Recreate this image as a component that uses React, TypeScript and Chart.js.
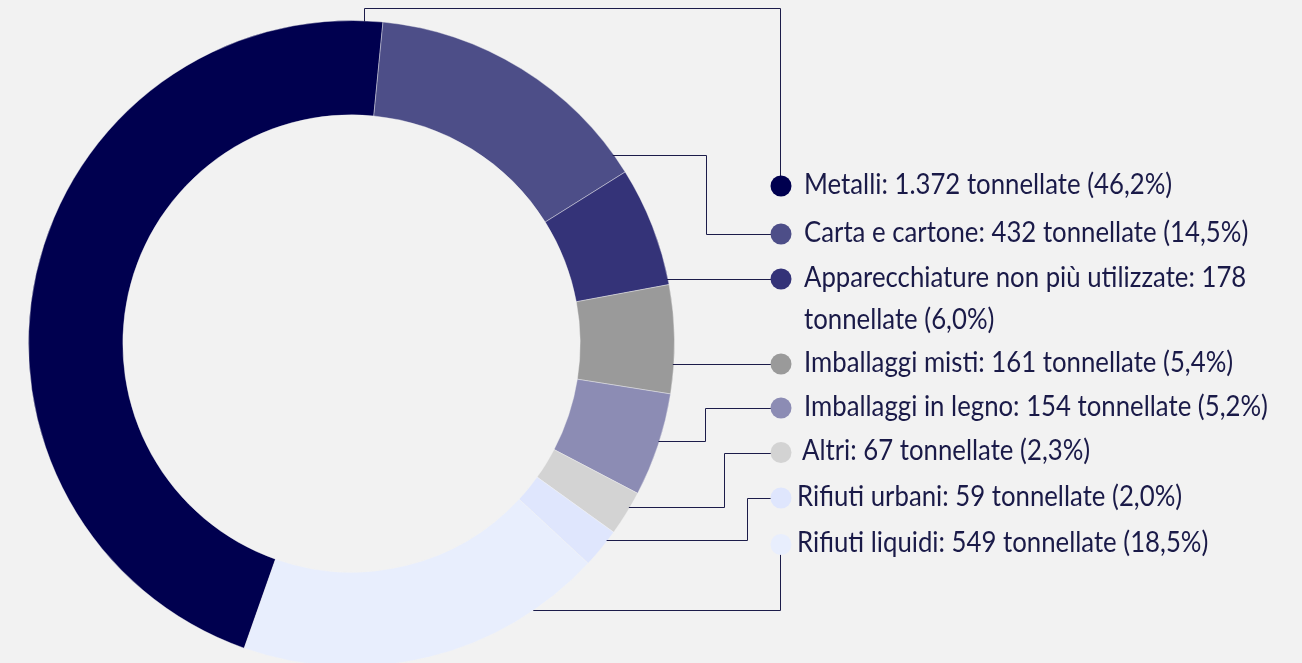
import React, { useEffect, useRef } from "react";
import { Chart, registerables } from "chart.js";

Chart.register(...registerables);

// ---- data ----
const categories = [
  "Metalli",
  "Carta e cartone",
  "Apparecchiature non più utilizzate",
  "Imballaggi misti",
  "Imballaggi in legno",
  "Altri",
  "Rifiuti urbani",
  "Rifiuti liquidi",
];
const tonnes = [1372, 432, 178, 161, 154, 67, 59, 549];
const unitLabel = "tonnellate";

// ---- styles / layout ----
const sliceColors = [
  "#00004f",
  "#4d4e88",
  "#343378",
  "#9a9a9a",
  "#8c8cb4",
  "#d3d3d3",
  "#dfe6fd",
  "#e8eefd",
];
const BG = "#f2f2f2";
const INK = "#1a1a48";
const LINE = "#1c1c4a";
const markerX = 781;
const markerR = 10.5;
const markerY = [186, 234, 279, 364, 408, 452.5, 498, 544.5];
const textX = [804, 804, 804, 804, 804, 802, 797, 797];
// where along each slice (0..1 of its angle) the leader line starts
const leaderFrac = [0.98, 0.93, 0.95, 0.73, 0.46, 0.35, 0.25, 0.19];
const leaderRoute = ["top", "elbow", "direct", "direct", "elbow", "elbow", "elbow", "bottom"];
const elbowX = [779.5, 706, 0, 0, 704.5, 723.5, 747, 779.5];
const topLineY = 8;
const TEXT_SCALE = 0.92;

const total = tonnes.reduce((a, b) => a + b, 0);
const fmtInt = (v: number) => v.toString().replace(/\B(?=(\d{3})+(?!\d))/g, ".");
const fmtPct = (v: number) => ((v / total) * 100).toFixed(1).replace(".", ",") + "%";
const legendTexts = categories.map(
  (c, i) => `${c}: ${fmtInt(tonnes[i])} ${unitLabel} (${fmtPct(tonnes[i])})`
);

const px = (v: number) => Math.round(v) + 0.5;

const leaderPlugin = {
  id: "leaders",
  afterDatasetsDraw(chart: any) {
    const ctx = chart.ctx;
    const meta = chart.getDatasetMeta(0);
    ctx.save();
    ctx.strokeStyle = LINE;
    ctx.lineWidth = 1;
    meta.data.forEach((arc: any, i: number) => {
      const { x, y, startAngle, endAngle, outerRadius } = arc.getProps(
        ["x", "y", "startAngle", "endAngle", "outerRadius"],
        true
      );
      const a = startAngle + (endAngle - startAngle) * leaderFrac[i];
      const sx = x + outerRadius * Math.cos(a);
      const sy = y + outerRadius * Math.sin(a);
      const my = markerY[i];
      ctx.beginPath();
      const route = leaderRoute[i];
      if (route === "top") {
        ctx.moveTo(px(sx), sy + 1);
        ctx.lineTo(px(sx), px(topLineY));
        ctx.lineTo(px(elbowX[i]), px(topLineY));
        ctx.lineTo(px(elbowX[i]), my - markerR + 1);
      } else if (route === "elbow") {
        ctx.moveTo(sx - 1, px(sy));
        ctx.lineTo(px(elbowX[i]), px(sy));
        ctx.lineTo(px(elbowX[i]), px(my));
        ctx.lineTo(markerX - markerR + 1, px(my));
      } else if (route === "direct") {
        ctx.moveTo(sx - 1, px(sy));
        ctx.lineTo(markerX - markerR + 1, px(sy));
      } else {
        ctx.moveTo(sx - 1, px(sy));
        ctx.lineTo(px(elbowX[i]), px(sy));
        ctx.lineTo(px(elbowX[i]), my + markerR - 1);
      }
      ctx.stroke();
    });
    // legend markers
    sliceColors.forEach((c, i) => {
      ctx.beginPath();
      ctx.fillStyle = c;
      ctx.arc(markerX, markerY[i], markerR, 0, Math.PI * 2);
      ctx.fill();
    });
    ctx.restore();
  },
};

export default function App() {
  const canvasRef = useRef<HTMLCanvasElement | null>(null);

  useEffect(() => {
    if (!canvasRef.current) return;
    const chart = new Chart(canvasRef.current, {
      type: "doughnut",
      data: {
        labels: categories,
        datasets: [
          {
            data: tonnes,
            backgroundColor: sliceColors,
            borderColor: "rgba(242,242,242,0.4)",
            borderWidth: 1,
          },
        ],
      },
      options: {
        responsive: false,
        maintainAspectRatio: false,
        animation: false,
        devicePixelRatio: 1,
        rotation: 199.4,
        cutout: "70.8%",
        layout: { padding: { left: 28, top: 20, right: 627, bottom: 13 } },
        plugins: {
          legend: { display: false },
          tooltip: { enabled: false },
        },
      },
      plugins: [leaderPlugin],
    } as any);
    return () => chart.destroy();
  }, []);

  return (
    <div
      style={{
        position: "fixed",
        left: 0,
        top: 0,
        width: 1302,
        height: 663,
        overflow: "hidden",
        background: BG,
      }}
    >
      <canvas
        ref={canvasRef}
        width={1302}
        height={680}
        style={{ position: "absolute", left: 0, top: 0, width: 1302, height: 680 }}
      />
      {legendTexts.map((t, i) => (
        <div
          key={i}
          style={{
            position: "absolute",
            left: textX[i],
            top: markerY[i] - 23.1,
            width: (1294 - textX[i]) / TEXT_SCALE,
            transform: `scaleX(${TEXT_SCALE})`,
            transformOrigin: "0 0",
            fontFamily: "Lato, 'Noto Sans', sans-serif",
            fontWeight: 400,
            fontSize: 28,
            lineHeight: "41.7px",
            color: INK,
            whiteSpace: "normal",
          }}
        >
          {t}
        </div>
      ))}
    </div>
  );
}
